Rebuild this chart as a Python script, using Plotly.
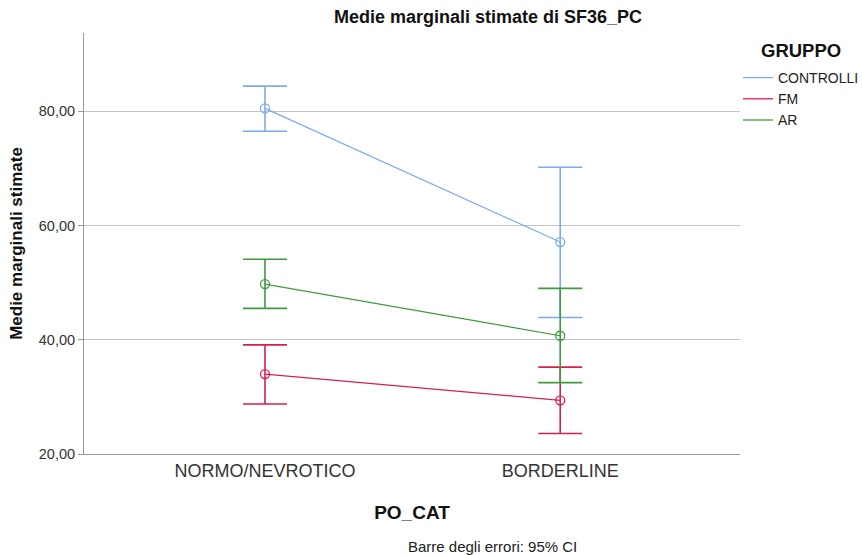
import plotly.graph_objects as go

categories = ["NORMO/NEVROTICO", "BORDERLINE"]
groups = ["CONTROLLI", "FM", "AR"]
means = {
    "CONTROLLI": [80.5, 57.1],
    "FM": [34.0, 29.4],
    "AR": [49.75, 40.7],
}
upper = {
    "CONTROLLI": [84.4, 70.2],
    "FM": [39.1, 35.2],
    "AR": [54.1, 49.0],
}
lower = {
    "CONTROLLI": [76.5, 43.9],
    "FM": [28.75, 23.6],
    "AR": [45.5, 32.5],
}
colors = {"CONTROLLI": "#7ea9ea", "FM": "#d81f4d", "AR": "#3e9a3e"}
ytick_vals = [20, 40, 60, 80]
ytick_text = ["20,00", "40,00", "60,00", "80,00"]

fig = go.Figure()
for g in groups:
    m = means[g]
    fig.add_trace(go.Scatter(
        x=[0, 1], y=m, mode="lines+markers", showlegend=False,
        line=dict(color=colors[g], width=1.2),
        marker=dict(symbol="circle-open", size=9, color=colors[g], line=dict(width=1.3)),
        error_y=dict(type="data", symmetric=False,
                     array=[u - v for u, v in zip(upper[g], m)],
                     arrayminus=[v - l for v, l in zip(m, lower[g])],
                     color=colors[g], thickness=1.6, width=22),
    ))
for g in groups:
    fig.add_trace(go.Scatter(x=[None], y=[None], mode="lines", name=g,
                             line=dict(color=colors[g], width=1.3)))

font = "Liberation Sans, Arial, sans-serif"
fig.update_layout(
    width=862, height=555,
    margin=dict(l=84, r=122, t=33, b=101, autoexpand=False),
    paper_bgcolor="white", plot_bgcolor="white",
    font=dict(family=font, color="#222"),
    showlegend=True,
    legend=dict(x=(738 - 84) / 656, y=(454 - 62) / 421, xanchor="left", yanchor="top",
                font=dict(size=14, family=font, color="#222"),
                tracegroupgap=0, itemwidth=30, bgcolor="rgba(0,0,0,0)"),
    xaxis=dict(range=[-0.613, 1.609], tickvals=[0, 1], ticktext=categories,
               showgrid=False, zeroline=False, showline=True, linecolor="#999",
               linewidth=1, ticks="", tickfont=dict(size=18, color="#333"),
               title=dict(text="<b>PO_CAT</b>", font=dict(size=19, color="#111"), standoff=26)),
    yaxis=dict(range=[20, 93.7], tickvals=ytick_vals, ticktext=ytick_text,
               showgrid=True, gridcolor="#c4c4c4", gridwidth=1, zeroline=False,
               showline=True, linecolor="#999", linewidth=1, ticks="outside",
               ticklen=5, tickcolor="#999", tickfont=dict(size=14.5, color="#333"),
               title=dict(text="<b>Medie marginali stimate</b>", font=dict(size=17, color="#111"), standoff=11)),
    annotations=[
        dict(text="<b>Medie marginali stimate di SF36_PC</b>", xref="paper", yref="paper",
             x=(488 - 84) / 656, y=(454 - 17) / 421, xanchor="center", yanchor="middle",
             showarrow=False, font=dict(size=18, color="#111")),
        dict(text="<b>GRUPPO</b>", xref="paper", yref="paper",
             x=(801 - 84) / 656, y=(454 - 50) / 421, xanchor="center", yanchor="middle",
             showarrow=False, font=dict(size=18.5, color="#111")),
        dict(text="Barre degli errori: 95% CI", xref="paper", yref="paper",
             x=(492 - 84) / 656, y=(454 - 546) / 421, xanchor="center", yanchor="middle",
             showarrow=False, font=dict(size=15, color="#222")),
    ],
)

fig.write_html("out.html")
